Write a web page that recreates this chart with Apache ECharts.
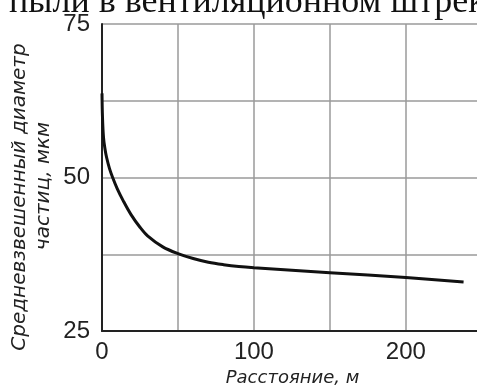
<!DOCTYPE html>
<html>
<head>
<meta charset="utf-8">
<script src="https://cdn.jsdelivr.net/npm/echarts@6/dist/echarts.min.js"></script>
<style>
  html, body { margin: 0; padding: 0; background: #fff; }
  #chart { width: 477px; height: 385px; }
</style>
</head>
<body>
<div id="chart"></div>
<script>
// Distance along the drift, m
const distance = [0, 0.3, 1, 2, 3, 5, 7, 10, 14, 19, 25, 30, 40, 50, 60, 70, 80, 90, 100, 150, 200, 238];
// Weighted mean particle diameter, µm
const diameter = [63.7, 60, 56.5, 54.6, 53.3, 51.4, 50.0, 48.2, 46.2, 44.0, 41.9, 40.5, 38.7, 37.6, 36.8, 36.2, 35.8, 35.5, 35.3, 34.5, 33.7, 33.0];
// Labelled ticks
const xTickLabels = [0, 100, 200];
const yTickLabels = [25, 50, 75];

const headingText = 'пыли в вентиляционном штреке';
const xName = 'Расстояние, м';
const yNameLines = ['Средневзвешенный диаметр', 'частиц, мкм'];

const chart = echarts.init(document.getElementById('chart'));
const sans = '"Liberation Sans", Arial, sans-serif';
const nameFont = 'italic 20px "DejaVu Sans", sans-serif';

chart.setOption({
  animation: false,
  backgroundColor: '#fff',
  // plot runs past the right edge of the canvas
  grid: {
    left: 102, top: 24, width: 395, height: 307,
    containLabel: false,
    outerBoundsMode: 'none'
  },
  xAxis: {
    type: 'value',
    min: 0,
    max: 260,
    interval: 50,
    axisLine: { show: true, lineStyle: { color: '#222', width: 2 } },
    axisTick: { show: false },
    splitLine: { show: true, lineStyle: { color: '#9a9a9a', width: 1.5 } },
    axisLabel: {
      margin: 9,
      color: '#222',
      fontFamily: sans,
      fontSize: 24,
      formatter: v => xTickLabels.includes(v) ? String(v) : ''
    },
    name: xName,
    nameLocation: 'middle',
    nameGap: 31,
    nameTextStyle: {
      fontFamily: '"DejaVu Sans", sans-serif',
      fontStyle: 'italic',
      fontSize: 18,
      color: '#222',
      padding: [0, 14, 0, 0]
    }
  },
  yAxis: {
    type: 'value',
    min: 25,
    max: 75,
    interval: 12.5,
    axisLine: { show: true, lineStyle: { color: '#222', width: 2 } },
    axisTick: { show: false },
    splitLine: { show: true, lineStyle: { color: '#9a9a9a', width: 1.5 } },
    axisLabel: {
      margin: 12,
      color: '#222',
      fontFamily: sans,
      fontSize: 24,
      padding: [0, 0, 6, 0],
      formatter: v => yTickLabels.includes(v) ? String(v) : ''
    }
  },
  graphic: [
    {
      type: 'text',
      x: 9,
      y: -15,
      style: {
        text: headingText,
        font: '36px "Liberation Serif", "Times New Roman", serif',
        fill: '#111',
        align: 'left',
        verticalAlign: 'top'
      }
    },
    {
      type: 'text',
      x: 20,
      y: 197,
      rotation: Math.PI / 2,
      style: {
        text: yNameLines[0],
        font: nameFont,
        fill: '#222',
        align: 'center',
        verticalAlign: 'middle'
      }
    },
    {
      type: 'text',
      x: 44,
      y: 186,
      rotation: Math.PI / 2,
      style: {
        text: yNameLines[1],
        font: nameFont,
        fill: '#222',
        align: 'center',
        verticalAlign: 'middle'
      }
    }
  ],
  series: [{
    type: 'line',
    data: distance.map((d, i) => [d, diameter[i]]),
    smooth: 0.35,
    showSymbol: false,
    clip: true,
    lineStyle: { color: '#111', width: 3 },
    z: 5
  }]
});
</script>
</body>
</html>
